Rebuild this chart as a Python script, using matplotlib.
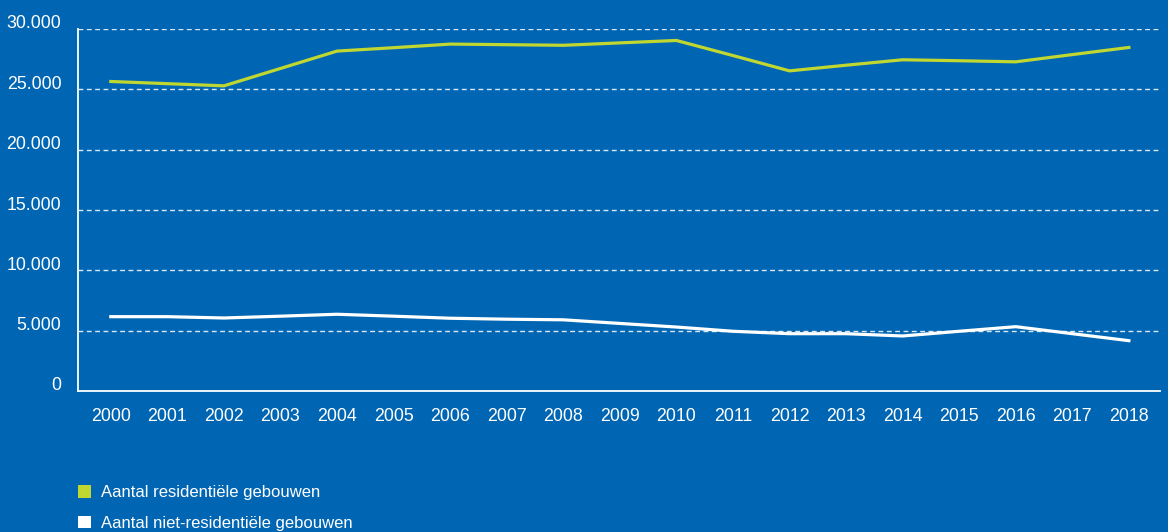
import matplotlib
matplotlib.use("Agg")
import matplotlib.pyplot as plt
import matplotlib.transforms as mtransforms
from matplotlib.patches import Patch

years = list(range(2000, 2019))
residential = [25650, 25470, 25290, 26730, 28170, 28450, 28750, 28700, 28650,
               28850, 29050, 27800, 26530, 27000, 27450, 27370, 27280, 27880,
               28470]
non_residential = [6160, 6160, 6050, 6200, 6360, 6200, 6030, 5950, 5900,
                   5600, 5300, 4950, 4750, 4750, 4560, 4950, 5330, 4750, 4170]
y_ticks = [0, 5000, 10000, 15000, 20000, 25000, 30000]
y_labels = ["0", "5.000", "10.000", "15.000", "20.000", "25.000", "30.000"]
series_names = ["Aantal residentiële gebouwen",
                "Aantal niet-residentiële gebouwen"]

BG = "#0066b3"
GREEN = "#bfd730"
WHITE = "#ffffff"

plt.rcParams["font.family"] = ["Liberation Sans", "DejaVu Sans"]

fig = plt.figure(figsize=(11.68, 5.32), dpi=100, facecolor=BG)
ax = fig.add_axes([78 / 1168, 1 - 391 / 532, (1160 - 78) / 1168, (391 - 29) / 532])
ax.set_facecolor(BG)

ax.plot(years, residential, color=GREEN, lw=2.3, solid_joinstyle="miter")
ax.plot(years, non_residential, color=WHITE, lw=2.3, solid_joinstyle="miter")

ax.set_xlim(1999.42, 2018.55)
ax.set_ylim(0, 30000)
ax.set_yticks(y_ticks)
ax.set_yticklabels(y_labels)
ax.set_xticks(years)
ax.set_xticklabels([str(y) for y in years])

# dashed gridlines (skip the one on the x axis)
for v in y_ticks[1:]:
    ax.axhline(v, color=WHITE, lw=1.0, ls=(0, (3.5, 2.5)), alpha=0.85, zorder=0.5)

for s in ("top", "right"):
    ax.spines[s].set_visible(False)
for s in ("left", "bottom"):
    ax.spines[s].set_color(WHITE)
    ax.spines[s].set_linewidth(1.3)

ax.tick_params(axis="both", length=0, colors=WHITE, labelsize=12.8)
ax.tick_params(axis="y", pad=12)
ax.tick_params(axis="x", pad=12)
# y labels sit a little above their gridline
offset = mtransforms.ScaledTranslation(0, 7 / 100, fig.dpi_scale_trans)
for lab in ax.get_yticklabels():
    lab.set_transform(lab.get_transform() + offset)

handles = [Patch(facecolor=GREEN, edgecolor="none"),
           Patch(facecolor=WHITE, edgecolor="none")]
fig.legend(handles, series_names, loc="upper left",
           bbox_to_anchor=(78 / 1168, 1 - 485 / 532), frameon=False,
           handlelength=0.78, handleheight=0.78, handletextpad=0.6,
           labelspacing=0.95, labelcolor=WHITE, fontsize=12,
           borderaxespad=0, borderpad=0)

fig.savefig("out.png", dpi=100, facecolor=BG)
